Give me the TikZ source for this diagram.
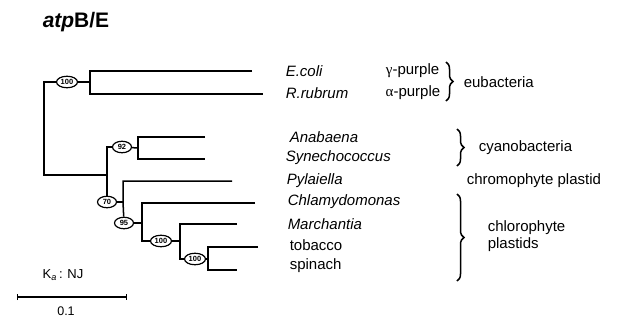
\documentclass[tikz,border=0pt]{standalone}
\usepackage{fontspec}
\setmainfont{Liberation Sans}
\newfontfamily\greekfont{Liberation Serif}
\usetikzlibrary{shapes.geometric,decorations.pathreplacing,arrows.meta}
\begin{document}
\begin{tikzpicture}[x=1pt,y=-1pt,line width=1.5pt,
  boot/.style={ellipse,draw,line width=1.2pt,minimum width=21pt,minimum height=11.5pt,inner sep=0pt,font=\fontsize{7.5}{7.5}\selectfont\bfseries},
  taxon/.style={anchor=west,inner sep=0pt,font=\fontsize{15}{15}\selectfont},
  grp/.style={anchor=west,inner sep=0pt,font=\fontsize{15}{15}\selectfont,align=left},
  bracebr/.style={decorate,decoration={brace,amplitude=7pt},line width=1.5pt}]
\useasboundingbox (0,0) rectangle (625,322);
% title
\node[anchor=west,inner sep=0pt,font=\fontsize{21}{21}\selectfont\bfseries] (title) at (42,22) {\textit{atp}B/E};
% tips
\coordinate (tE) at (252,71);
\coordinate (tR) at (263,94);
\coordinate (tAna) at (205,137);
\coordinate (tSyn) at (205,159);
\coordinate (tPyl) at (232,181);
\coordinate (tChl) at (255,203);
\coordinate (tMar) at (237,224);
\coordinate (tTob) at (258,247);
\coordinate (tSpi) at (237,270);
% junctions
\coordinate (jA) at (90,82);
\coordinate (r1) at (44,82);
\coordinate (r2) at (44,175);
\coordinate (j107) at (107,175);
\coordinate (j92) at (107,147);
\coordinate (jC) at (138,148);
\coordinate (j70) at (123,202);
\coordinate (j95) at (142,223);
\coordinate (j100b) at (180,241);
\coordinate (j100c) at (208,259);
% bootstrap ovals
\node[boot] (o100a) at (67,82) {100};
\node[boot,minimum width=19pt] (o92) at (122,147) {92};
\node[boot,minimum width=19pt] (o70) at (107,202) {70};
\node[boot,minimum width=19pt] (o95) at (124,223) {95};
\node[boot] (o100b) at (161,241) {100};
\node[boot] (o100c) at (195,259) {100};
% branches
\draw (tE) -| (jA) |- (tR);
\draw (jA) -- (o100a) -- (r1) -- (r2) -- (j107);
\draw (o92) -- (j92) -- (o70);
\draw (o92) -- (jC);
\draw (tAna) -| (jC) |- (tSyn);
\draw (o70) -- (j70);
\draw (tPyl) -| (j70) -- (o95);
\draw (o95) -- (j95);
\draw (tChl) -| (j95) |- (o100b);
\draw (o100b) -- (j100b);
\draw (tMar) -| (j100b) |- (o100c);
\draw (o100c) -- (j100c);
\draw (tTob) -| (j100c) |- (tSpi);
% taxa
\node[taxon] (lE) at (285,71) {\itshape E.coli};
\node[taxon] (lR) at (285,93) {\itshape R.rubrum};
\node[taxon,anchor=east] (lg) at (440,71) {{\greekfont γ}-purple};
\node[taxon,anchor=east] (la) at (441,93) {{\greekfont α}-purple};
\node[taxon] (lAna) at (289,137) {\itshape Anabaena};
\node[taxon] (lSyn) at (285,158) {\itshape Synechococcus};
\node[taxon] (lPyl) at (286,181) {\itshape Pylaiella};
\node[taxon] (lChl) at (287,202) {\itshape Chlamydomonas};
\node[taxon] (lMar) at (287,224) {\itshape Marchantia};
\node[taxon] (lTob) at (289,245) {tobacco};
\node[taxon] (lSpi) at (289,266) {spinach};
% groups
\draw[bracebr] (446,62) -- (446,101);
\node[grp] (geu) at (463,82) {eubacteria};
\draw[bracebr] (457,129) -- (457,166);
\node[grp] (gcy) at (478,148) {cyanobacteria};
\node[grp] (gch) at (466,181) {chromophyte plastid};
\draw[bracebr] (457,194) -- (457,281);
\node[grp] (gcl) at (487,236) {chlorophyte\\[2pt]plastids};
% scale
\node[inner sep=0pt,font=\fontsize{13}{13}\selectfont] (ka) at (63,275) {K\textsubscript{\itshape a}\,: NJ};
\coordinate (sL) at (17,297);
\coordinate (sR) at (127,297);
\draw[line width=1.2pt,{Bar[width=6pt]}-{Bar[width=6pt]}] (sL) -- (sR);
\node[inner sep=0pt,font=\fontsize{12.5}{12.5}\selectfont] (sc) at (66,311) {0.1};
\end{tikzpicture}
\end{document}
